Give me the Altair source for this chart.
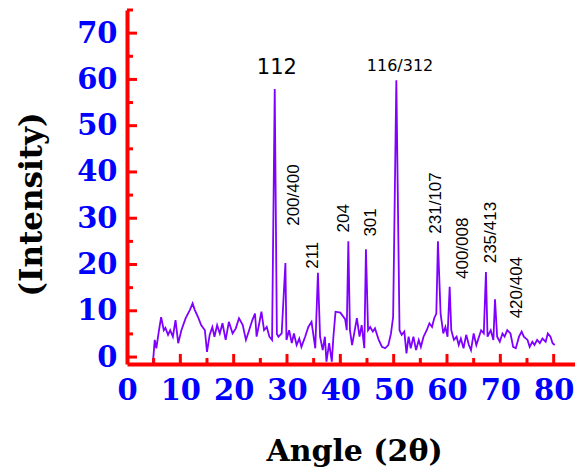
import altair as alt
import pandas as pd

# ---- data ----
angle = [4.85, 5.2, 5.5, 6.0, 6.4, 6.9, 7.2, 7.7, 8.1, 8.6, 9.1, 9.6, 10.2, 11.0, 11.8, 12.3,
         12.7, 13.3, 13.9, 14.6, 15.0, 15.5, 16.0, 16.4, 16.9, 17.4, 17.9, 18.5, 19.1, 19.8,
         20.4, 21.0, 21.7, 22.3, 22.9, 23.5, 24.0, 24.3, 24.8, 25.2, 25.7, 26.2, 26.7, 27.2,
         27.7, 28.1, 28.4, 29.0, 29.7, 29.9, 30.4, 30.9, 31.3, 31.8, 32.3, 32.7, 33.4, 34.0,
         34.6, 35.3, 35.8, 36.2, 36.7, 37.1, 37.4, 37.9, 38.4, 38.7, 39.1, 40.0, 40.9, 41.2,
         41.5, 41.8, 42.2, 42.6, 43.1, 43.6, 44.0, 44.5, 44.8, 45.2, 45.6, 46.1, 46.5, 47.2,
         47.8, 48.4, 49.0, 49.5, 49.9, 50.5, 51.1, 51.5, 52.0, 52.4, 52.8, 53.2, 53.7, 54.2,
         54.7, 55.1, 55.6, 56.2, 56.7, 57.2, 57.6, 58.0, 58.3, 58.8, 59.3, 59.7, 60.1, 60.5,
         60.8, 61.3, 61.8, 62.2, 62.6, 63.1, 63.6, 64.1, 64.5, 65.0, 65.5, 66.0, 66.4, 66.9,
         67.3, 67.6, 68.2, 68.7, 69.0, 69.4, 69.9, 70.4, 70.8, 71.3, 71.9, 72.4, 72.9, 73.5,
         74.0, 74.4, 75.1, 75.5, 76.0, 76.4, 76.9, 77.4, 77.9, 78.5, 78.9, 79.4, 79.8, 80.2]
intensity = [-1.4, 3.7, 1.9, 5.8, 8.6, 5.8, 6.3, 4.8, 5.8, 4.4, 8.0, 3.0, 5.8, 8.4, 10.2, 11.6,
             10.2, 8.7, 6.9, 5.8, 1.1, 4.8, 6.5, 4.4, 6.9, 5.1, 7.3, 3.7, 7.6, 5.1,
             6.2, 8.4, 6.9, 3.7, 5.8, 8.0, 9.4, 4.4, 7.3, 9.8, 5.8, 6.5, 4.4, 3.7,
             57.9, 5.0, 4.4, 5.1, 20.3, 3.7, 5.8, 3.0, 5.1, 2.6, 4.0, 2.2, 4.4, 6.5,
             7.6, 1.9, 18.2, 4.4, 1.5, 4.4, -1.0, 3.0, -1.0, 4.4, 9.8, 9.6, 8.2, 5.8,
             25.0, 5.8, 2.6, 5.1, 8.4, 4.4, 6.9, 1.9, 23.3, 5.8, 6.5, 5.5, 6.2, 3.7,
             2.2, 1.9, 2.6, 5.1, 8.7, 59.8, 5.8, 4.8, 5.5, 0.8, 4.4, 1.9, 4.4, 1.5,
             3.7, 2.2, 4.4, 5.8, 7.3, 6.5, 8.4, 9.4, 25.0, 9.4, 5.1, 6.5, 4.4, 15.2,
             5.8, 3.7, 4.4, 2.6, 4.0, 1.9, 4.8, 2.6, 1.5, 5.1, 2.6, 4.4, 5.8, 5.1,
             18.4, 4.4, 5.8, 3.7, 12.5, 4.4, 3.3, 5.1, 4.4, 5.8, 5.1, 2.2, 1.9, 4.4,
             5.5, 4.4, 3.7, 2.2, 3.3, 2.6, 3.7, 3.0, 4.0, 3.3, 5.1, 4.4, 3.0, 2.6]

flat_labels = ["112", "116/312"]
flat_x = [28.1, 51.2]
flat_y = [62.5, 62.8]
flat_size = [21, 16]

vert_labels = ["200/400", "211", "204", "301", "231/107", "400/008", "235/413", "420/404"]
vert_x = [31.3, 34.8, 40.7, 45.7, 58.0, 63.0, 68.3, 73.2]
vert_y = [35.0, 22.0, 30.0, 29.1, 33.3, 23.5, 26.9, 15.0]

x_major = [10, 20, 30, 40, 50, 60, 70, 80]
x_minor = [5, 15, 25, 35, 45, 55, 65, 75]
y_major = [0, 10, 20, 30, 40, 50, 60, 70]
y_minor = [5, 15, 25, 35, 45, 55, 65, 75]
x_labels = [0, 10, 20, 30, 40, 50, 60, 70, 80]
y_labels = [0, 10, 20, 30, 40, 50, 60, 70]

W, H = 448, 354
XDOM = [0, 84]
YDOM = [-1.5, 75]
RED = "#FF0000"
BLUE = "#0000FF"

df = pd.DataFrame({"angle": angle, "intensity": intensity})
flat_df = pd.DataFrame({"label": flat_labels, "x": flat_x, "y": flat_y, "size": flat_size})
vert_df = pd.DataFrame({"label": vert_labels, "x": vert_x, "y": vert_y})

xscale = alt.Scale(domain=XDOM, nice=False, zero=False)
yscale = alt.Scale(domain=YDOM, nice=False, zero=False)

x_axis = alt.Axis(
    values=x_labels, format="d", ticks=False, grid=False,
    domainColor=RED, domainWidth=4,
    labelFont="DejaVu Serif", labelFontWeight="bold", labelFontSize=29,
    labelColor=BLUE, labelPadding=12, labelFlush=False, labelOverlap=False,
    title="Angle (2θ)", titleFont="DejaVu Serif", titleFontWeight="bold",
    titleFontSize=30, titleColor="black", titleX=227, titleY=96,
    titleAnchor="start", titleAlign="center", titleBaseline="alphabetic",
)
y_axis = alt.Axis(
    values=y_labels, format="d", ticks=False, grid=False,
    domainColor=RED, domainWidth=4,
    labelFont="DejaVu Serif", labelFontWeight="bold", labelFontSize=29,
    labelColor=BLUE, labelPadding=10, labelFlush=False, labelOverlap=False,
    title="(Intensity)", titleFont="DejaVu Serif", titleFontWeight="bold",
    titleFontSize=31, titleColor="black", titleX=-95, titleY=194,
    titleAngle=270, titleAlign="center", titleBaseline="middle",
)

line = alt.Chart(df).mark_line(color="#7F00FF", strokeWidth=1.8).encode(
    x=alt.X("angle:Q", scale=xscale, axis=x_axis),
    y=alt.Y("intensity:Q", scale=yscale, axis=y_axis),
)

def xticks(vals, length):
    return alt.Chart(pd.DataFrame({"v": vals})).mark_rule(color=RED, strokeWidth=3).encode(
        x=alt.X("v:Q", scale=xscale),
        y=alt.value(H), y2=alt.value(H - length),
    )

def yticks(vals, length):
    return alt.Chart(pd.DataFrame({"v": vals})).mark_rule(color=RED, strokeWidth=3).encode(
        y=alt.Y("v:Q", scale=yscale),
        x=alt.value(0), x2=alt.value(length),
    )

flat_text = alt.Chart(flat_df).mark_text(
    font="DejaVu Sans", color="black", align="center", baseline="middle"
).encode(
    x=alt.X("x:Q", scale=xscale),
    y=alt.Y("y:Q", scale=yscale),
    text="label:N",
    size=alt.Size("size:Q", scale=None, legend=None),
)

vert_text = alt.Chart(vert_df).mark_text(
    font="Liberation Sans", fontSize=17, color="black", angle=270,
    align="center", baseline="middle"
).encode(
    x=alt.X("x:Q", scale=xscale),
    y=alt.Y("y:Q", scale=yscale),
    text="label:N",
)

chart = alt.layer(
    line,
    xticks(x_major, 10), xticks(x_minor, 6),
    yticks(y_major, 10), yticks(y_minor, 6),
    flat_text, vert_text,
).properties(
    width=W, height=H,
    autosize=alt.AutoSizeParams(type="none"),
    padding={"left": 127, "right": 0, "top": 10, "bottom": 105},
    background="white",
).configure_view(stroke=None)

chart.save("out.html", embed_options={"renderer": "svg", "actions": False})
